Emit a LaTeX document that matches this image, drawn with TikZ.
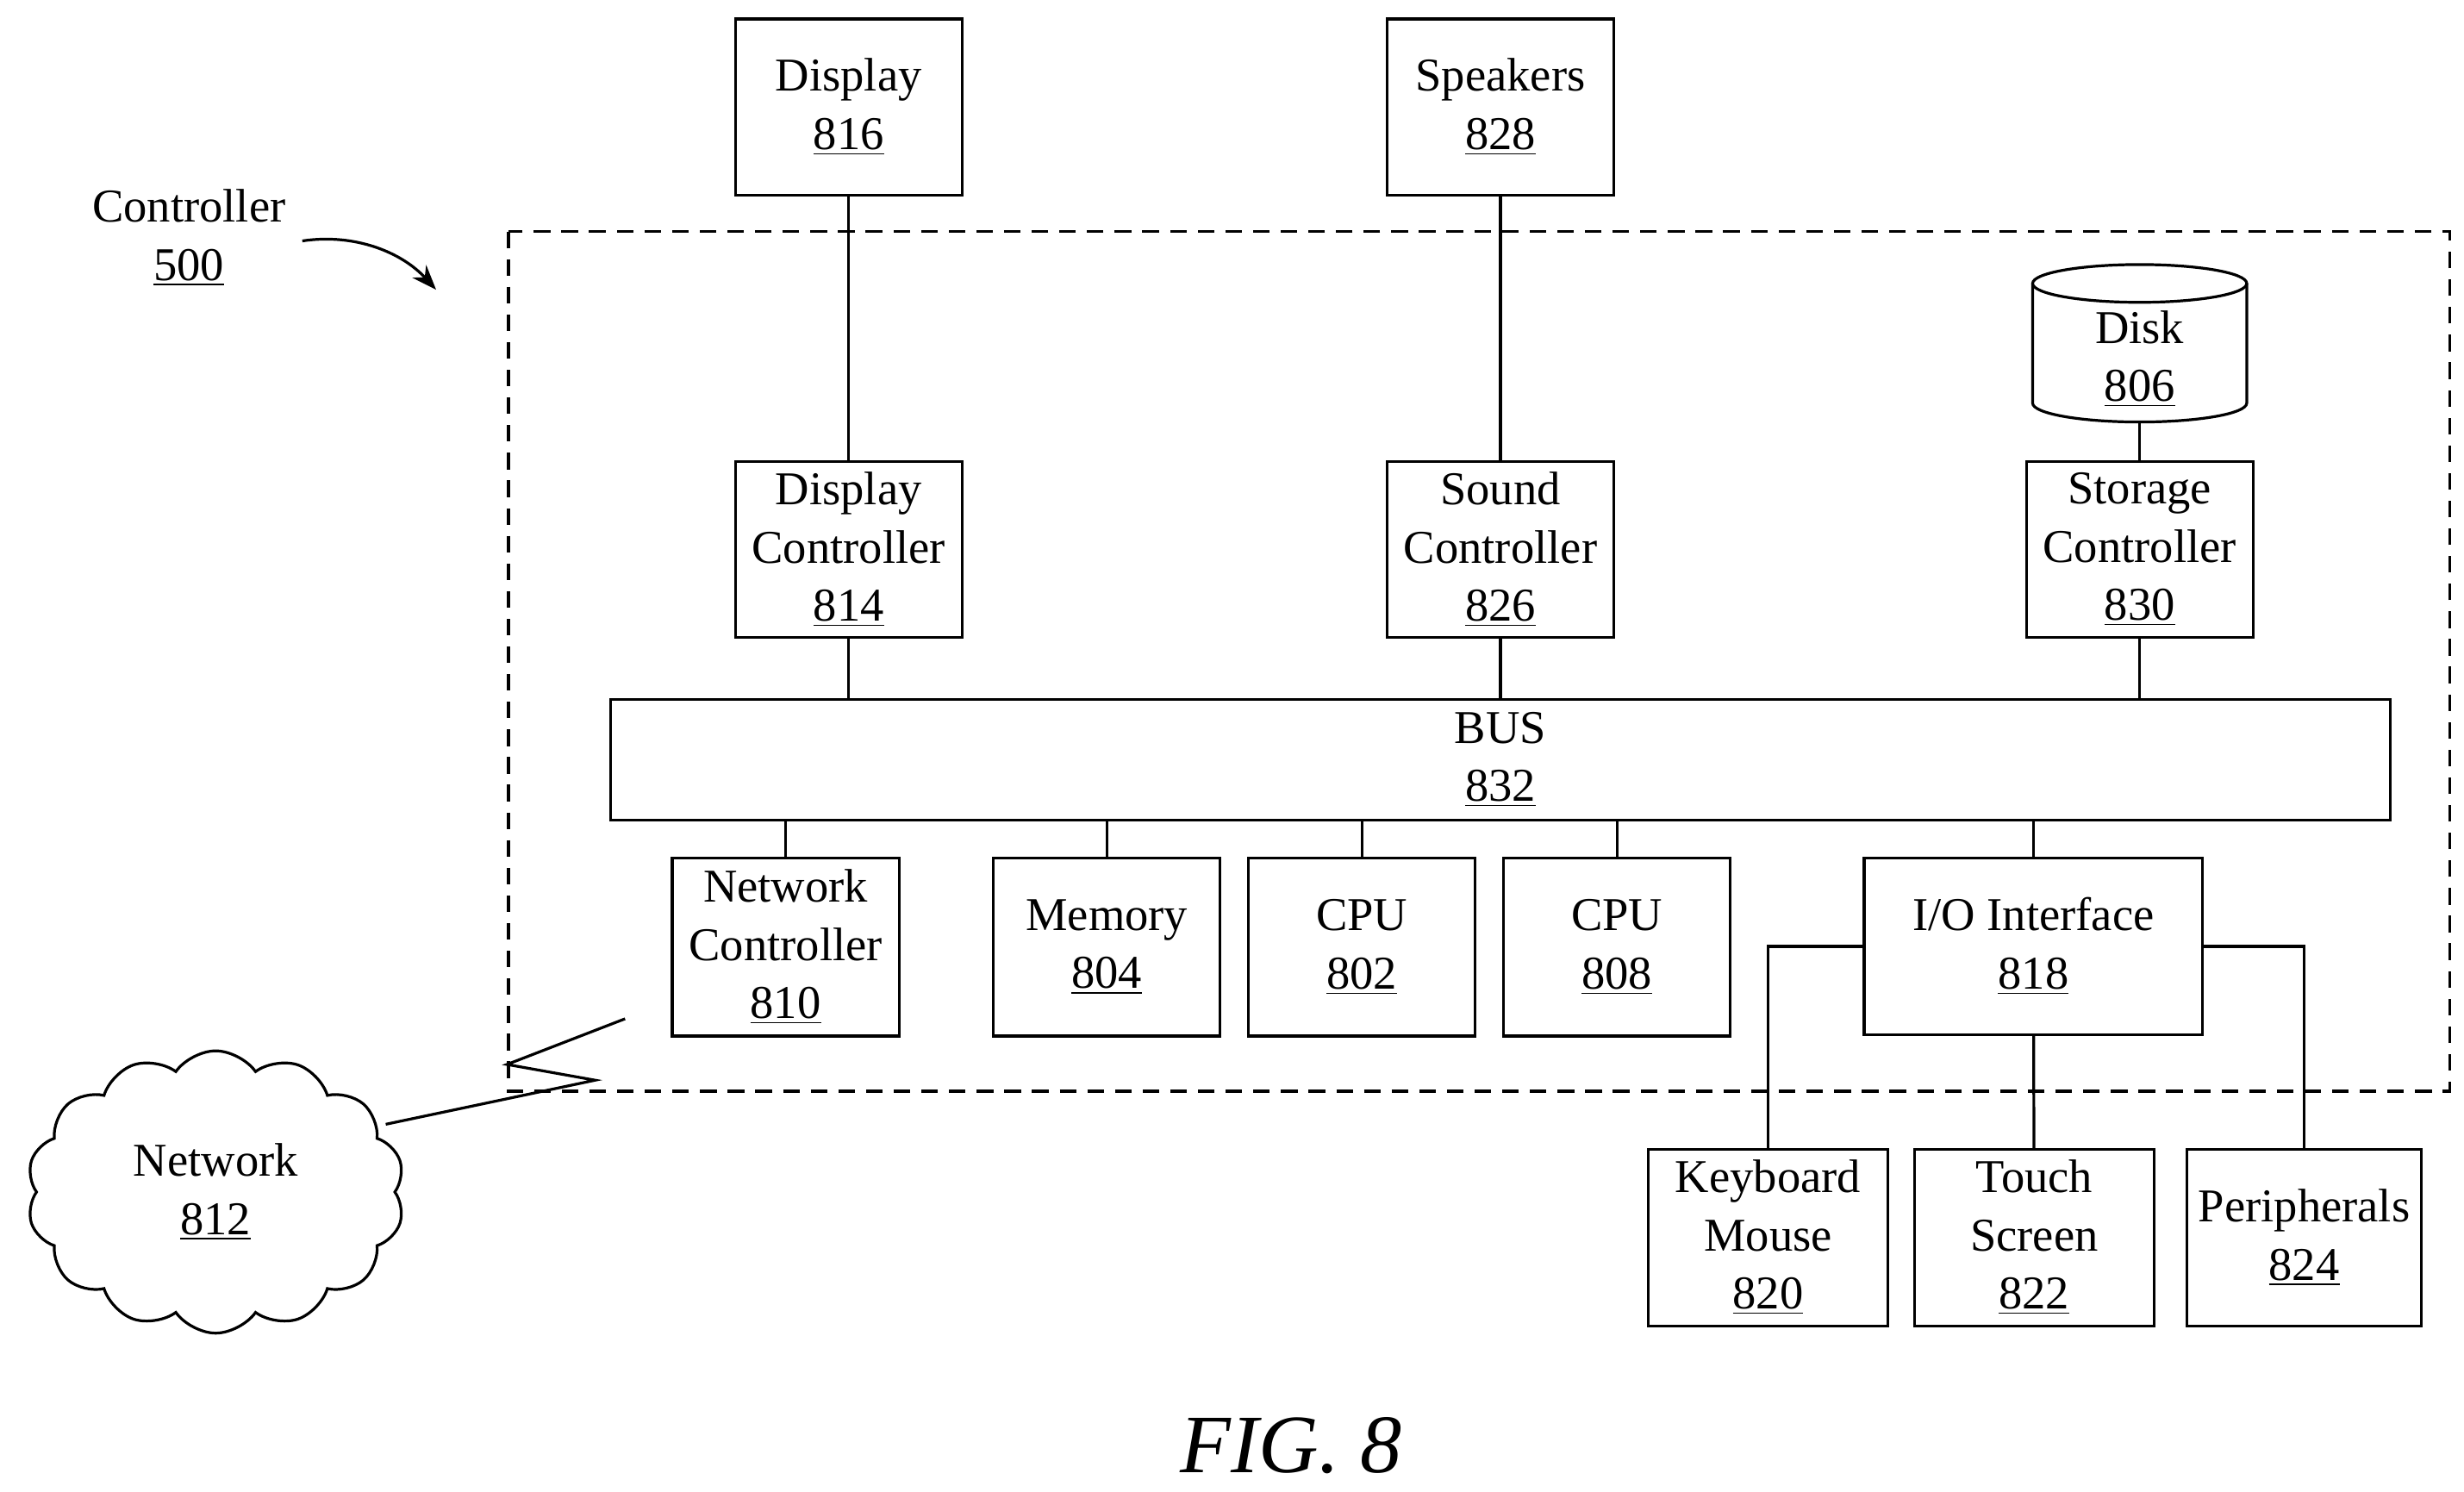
\documentclass[tikz,border=0pt]{standalone}
\usepackage{fontspec}
\setmainfont{Liberation Serif}
\usetikzlibrary{shapes.symbols,arrows.meta}
\begin{document}
\begin{tikzpicture}[x=0.02cm,y=-0.02cm,
 box/.style={draw,line width=1pt,inner sep=0pt,align=center,font=\fontsize{17}{21}\selectfont},
 ln/.style={line width=1pt}]
\useasboundingbox (0,0) rectangle (1565,947);
\newcommand{\bx}[5]{\node[box,minimum width=(#3-#1)*0.02cm,minimum height=(#4-#2)*0.02cm] (#5) at ({(#1+#3)/2},{(#2+#4)/2})}
\draw[ln,dashed,dash pattern=on 6pt off 4pt] (323,147) rectangle (1556,693);
\bx{467}{12}{611}{124}{disp} {Display\\\underline{816}};
\bx{881}{12}{1025}{124}{spk} {Speakers\\\underline{828}};
\bx{467}{293}{611}{405}{dc} {Display\\Controller\\\underline{814}};
\bx{881}{293}{1025}{405}{sc} {Sound\\Controller\\\underline{826}};
\bx{1287}{293}{1431}{405}{stc} {Storage\\Controller\\\underline{830}};
\bx{388}{444}{1518}{521}{bus} {BUS\\\underline{832}};
\bx{427}{545}{571}{658}{nc} {Network\\Controller\\\underline{810}};
\bx{631}{545}{775}{658}{mem} {Memory\\\underline{804}};
\bx{793}{545}{937}{658}{cpua} {CPU\\\underline{802}};
\bx{955}{545}{1099}{658}{cpub} {CPU\\\underline{808}};
\bx{1184}{545}{1399}{657}{io} {I/O Interface\\\underline{818}};
\bx{1047}{730}{1199}{842}{kb} {Keyboard\\Mouse\\\underline{820}};
\bx{1216}{730}{1368}{842}{ts} {Touch\\Screen\\\underline{822}};
\bx{1389}{730}{1538}{842}{per} {Peripherals\\\underline{824}};
% disk
\draw[ln,fill=white] (1291,180) -- (1291,256) arc[start angle=180,end angle=360,x radius=68,y radius=-12] -- (1427,180);
\draw[ln,fill=white] (1359,180) ellipse[x radius=68,y radius=12];
\node[align=center,font=\fontsize{17}{21}\selectfont] (disk) at (1359,228) {Disk\\\underline{806}};
\coordinate (diskb) at (1359,268);
% cloud
\node[cloud,draw,line width=1pt,cloud puffs=14,cloud puff arc=110,minimum width=240*0.02cm,minimum height=130*0.02cm,align=center,font=\fontsize{17}{21}\selectfont] (net) at (137,757) {Network\\\underline{812}};
% connections
\draw[ln] (disp) -- (dc); \draw[ln] (spk) -- (sc); \draw[ln] (diskb) -- (stc);
\draw[ln] (dc) -- (dc|-bus.north); \draw[ln] (sc) -- (sc|-bus.north); \draw[ln] (stc) -- (stc|-bus.north);
\foreach \n in {nc,mem,cpua,cpub,io} \draw[ln] (\n.north) -- (\n|-bus.south);
\draw[ln] (io.west|-0,601) -| (kb.north);
\draw[ln] (io.east|-0,601) -| (per.north);
\draw[ln] (io) -- (ts);
% lightning
\coordinate (l1) at (397,647); \coordinate (l2) at (245,714);
\draw[ln] (l1) -- (322,676) -- (378,686) -- (l2);
% controller label
\node[align=center,font=\fontsize{17}{21}\selectfont] (ctl) at (120,151) {Controller\\\underline{500}};
\coordinate (ca) at (277,184);
\draw[ln,-{Stealth[length=9pt]}] (192,153) .. controls (225,148) and (255,160) .. (ca);
\node[font=\itshape\fontsize{30}{34}\selectfont] (fig) at (820,918) {FIG. 8};
\end{tikzpicture}
\end{document}
